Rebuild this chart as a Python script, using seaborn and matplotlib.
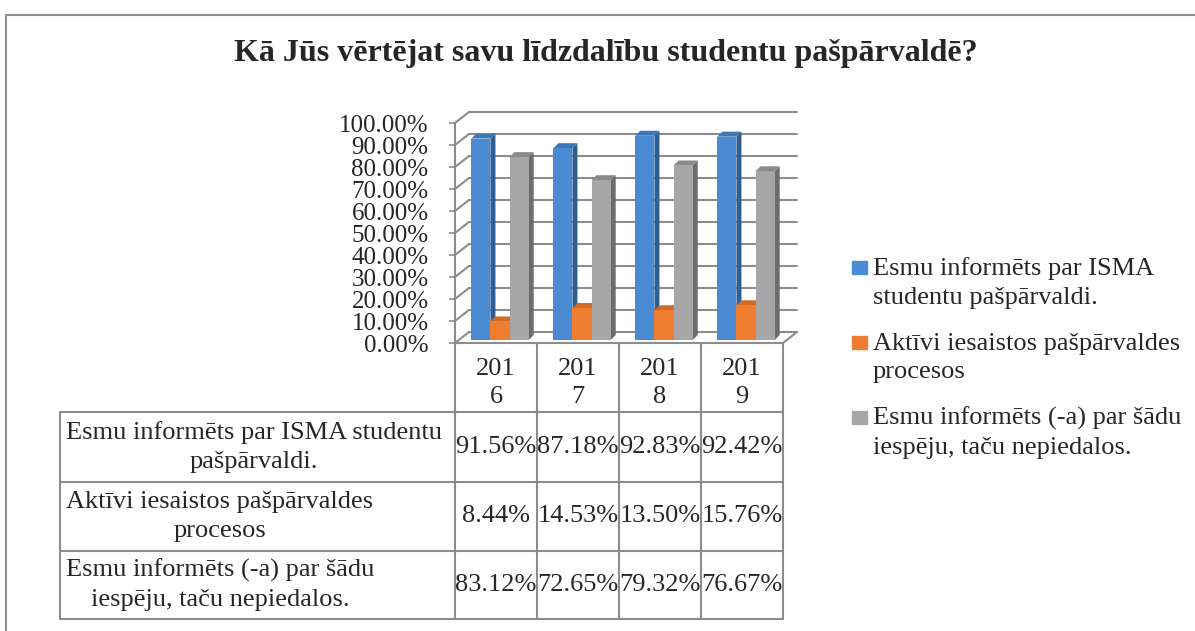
import numpy as np
import pandas as pd
import matplotlib
matplotlib.use("Agg")
import matplotlib.pyplot as plt
import matplotlib.transforms as mtransforms
from matplotlib.lines import Line2D
from matplotlib.patches import Polygon, Rectangle
import seaborn as sns

# data
title = "Kā Jūs vērtējat savu līdzdalību studentu pašpārvaldē?"
years = ["2016", "2017", "2018", "2019"]
series = ["Esmu informēts par ISMA studentu pašpārvaldi.",
          "Aktīvi iesaistos pašpārvaldes procesos",
          "Esmu informēts (-a) par šādu iespēju, taču nepiedalos."]
informed = [91.56, 87.18, 92.83, 92.42]
active = [8.44, 14.53, 13.50, 15.76]
not_taking_part = [83.12, 72.65, 79.32, 76.67]
yticks = [0, 10, 20, 30, 40, 50, 60, 70, 80, 90, 100]

table_labels = ["Esmu informēts par ISMA studentu\npašpārvaldi.",
                "Aktīvi iesaistos pašpārvaldes\nprocesos",
                "Esmu informēts (-a) par šādu\niespēju, taču nepiedalos."]
legend_labels = ["Esmu informēts par ISMA\nstudentu pašpārvaldi.",
                 "Aktīvi iesaistos pašpārvaldes\nprocesos",
                 "Esmu informēts (-a) par šādu\niespēju, taču nepiedalos."]

colors = ["#4a8bd4", "#ee7d31", "#a6a6a6"]
side_colors = ["#2e5f94", "#b5591d", "#6c6c6c"]
top_colors = ["#3f77b5", "#cf6a28", "#8a8a8a"]
line_gray = "#8c8c8c"

W, H = 1195, 631

sns.set_style("white")
plt.rcParams["font.family"] = ["Liberation Serif", "DejaVu Serif"]


def fx(px):
    return px / W


def fy(py):
    return 1 - py / H


df = pd.DataFrame({
    "Gads": years * 3,
    "Vērtība": informed + active + not_taking_part,
    "Sērija": np.repeat(series, len(years)),
})

fig = plt.figure(figsize=(W / 100, H / 100), dpi=100)
ax = fig.add_axes([fx(455), fy(343), (783 - 455) / W, 220 / H])
ax.set_facecolor("none")

sns.barplot(data=df, x="Gads", y="Vērtība", hue="Sērija", palette=colors,
            width=0.7, gap=0, saturation=1, legend=False, ax=ax,
            errorbar=None, linewidth=0, zorder=3)
ax.set_xlim(-0.5, 3.5)
ax.set_ylim(0, 100)
ax.set_yticks(yticks)
ax.set_yticklabels([f"{v:.2f}%" for v in yticks])
ax.set_xticks([])
ax.set_xlabel("")
ax.set_ylabel("")
for s in ["top", "right"]:
    ax.spines[s].set_visible(False)
for s in ["left", "bottom"]:
    ax.spines[s].set_color(line_gray)
    ax.spines[s].set_linewidth(1.5)
ax.tick_params(axis="y", length=4, width=1.2, color=line_gray, pad=15,
               labelsize=18, left=True)

ident = mtransforms.IdentityTransform()

# back wall gridlines (pseudo 3D)
grid_tr = mtransforms.offset_copy(ax.transData, fig=fig, x=14, y=11, units="dots")
for t in yticks:
    ax.plot([-0.5, 3.5], [t, t], color=line_gray, lw=1.5, transform=grid_tr,
            clip_on=False, zorder=1)
    p0 = ax.transData.transform((-0.5, t))
    ax.add_line(Line2D([p0[0], p0[0] + 14], [p0[1], p0[1] + 11], color=line_gray,
                       lw=1.5, transform=ident, clip_on=False, zorder=1))
p0 = ax.transData.transform((3.5, 0))
ax.add_line(Line2D([p0[0], p0[0] + 14], [p0[1], p0[1] + 11], color=line_gray,
                   lw=1.5, transform=ident, clip_on=False, zorder=1))

# bars sit a bit behind the front plane, add side and top faces
bar_tr = mtransforms.offset_copy(ax.transData, fig=fig, x=4, y=3, units="dots")
n = len(years)
d = 5
for i, p in enumerate(ax.patches):
    k = i // n
    p.set_transform(bar_tr)
    p.set_zorder(3)
    x0, x1 = p.get_x(), p.get_x() + p.get_width()
    h = p.get_height()
    (X0, Y0), (X1, Yh) = bar_tr.transform([(x0, 0), (x1, h)])
    side = Polygon([(X1, Y0), (X1 + d, Y0 + d), (X1 + d, Yh + d), (X1, Yh)],
                   closed=True, color=side_colors[k], transform=ident,
                   clip_on=False, zorder=2.5, lw=0)
    top = Polygon([(X0, Yh), (X1, Yh), (X1 + d, Yh + d), (X0 + d, Yh + d)],
                  closed=True, color=top_colors[k], transform=ident,
                  clip_on=False, zorder=2.5, lw=0)
    ax.add_patch(side)
    ax.add_patch(top)

# title
fig.text(fx(606), fy(54), title, ha="center", va="center", fontsize=23,
         fontweight="bold")


def fline(xs, ys, **kw):
    fig.add_artist(Line2D([fx(v) for v in xs], [fy(v) for v in ys],
                          color=line_gray, lw=1.5, transform=fig.transFigure, **kw))


# data table
col_edges = [455, 537, 619, 701, 783]
row_edges = [412, 482, 551, 619]
for xe in col_edges:
    fline([xe, xe], [343, row_edges[-1]])
fline([60, 60], [row_edges[0], row_edges[-1]])
for ye in row_edges:
    fline([60, col_edges[-1]], [ye, ye])

for j, yr in enumerate(years):
    cx = (col_edges[j] + col_edges[j + 1]) / 2
    fig.text(fx(cx), fy(383), yr[:3] + "\n" + yr[3:], ha="center", va="center",
             fontsize=19, linespacing=1.38)

table_values = [informed, active, not_taking_part]
for r, (lab, vals) in enumerate(zip(table_labels, table_values)):
    cy = (row_edges[r] + row_edges[r + 1]) / 2
    fig.text(fx(66), fy(cy), lab, ha="left", va="center", multialignment="center",
             fontsize=19, linespacing=1.38)
    for j, v in enumerate(vals):
        cx = (col_edges[j] + col_edges[j + 1]) / 2
        fig.text(fx(cx), fy(cy), f"{v:.2f}%", ha="center", va="center", fontsize=19)

# legend
for k, lab in enumerate(legend_labels):
    y1 = 268 + 75 * k
    fig.add_artist(Rectangle((fx(852), fy(y1 + 6)), 15 / W, 13 / H,
                             color=colors[k], transform=fig.transFigure))
    fig.text(fx(873), fy(y1 + 15), lab, ha="left", va="center", fontsize=19,
             linespacing=1.38)

# chart border
fline([6.5, 6.5, W], [H, 14.5, 14.5])

fig.savefig("out.png", dpi=100)
